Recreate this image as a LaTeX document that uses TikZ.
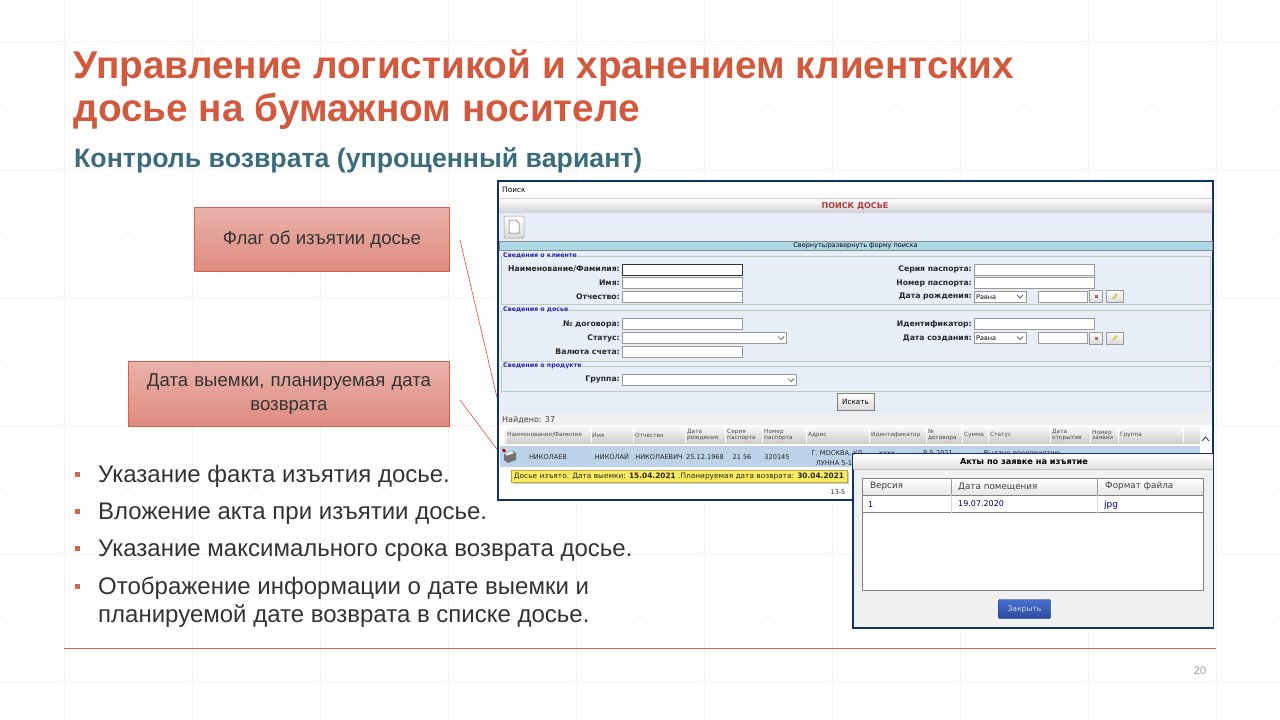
\documentclass[tikz,border=0pt]{standalone}
\usepackage{fontspec}
\setmainfont{Liberation Sans}
\newfontfamily\webfont{DejaVu Sans}
\usepackage{xcolor}
\definecolor{TitleRed}{HTML}{D15A3E}
\definecolor{SubTeal}{HTML}{3B6C7C}
\definecolor{BoxLine}{HTML}{D8614A}
\definecolor{BoxTop}{HTML}{E9B2AB}
\definecolor{BoxBottom}{HTML}{DF8B7E}
\definecolor{BodyGrey}{HTML}{333333}
\definecolor{GridGrey}{HTML}{F3F3F3}
\definecolor{DiagGrey}{HTML}{F5F5F5}
\definecolor{FrameNavy}{HTML}{14306B}
\definecolor{FormBlue}{HTML}{E8EEF8}
\definecolor{BarBlue}{HTML}{ADD8E6}
\definecolor{SetGreen}{HTML}{B9CDB9}
\definecolor{RowBlue}{HTML}{BDD3EA}
\definecolor{TipYellow}{HTML}{FFEB5F}
\definecolor{TitleBrick}{HTML}{B23A3A}
\definecolor{LegendBlue}{HTML}{2222A8}
\definecolor{CloseTop}{HTML}{4A6FD0}
\definecolor{CloseBottom}{HTML}{2A4A9E}
\usetikzlibrary{positioning}
\newcommand{\fs}[1]{\fontsize{#1}{#1}\selectfont}
\tikzset{
    slidetext/.style={inner sep=0pt, anchor=base west, text=BodyGrey, font=\fs{24}},
    callout/.style={draw=BoxLine, line width=0.8pt, top color=BoxTop, bottom color=BoxBottom, text=BodyGrey, font=\fs{18.6}, align=center, inner sep=0pt},
    leader/.style={draw=BoxLine, line width=0.7pt},
    bullet/.style={fill=BoxLine, minimum size=5pt, inner sep=0pt},
    formlabel/.style={inner sep=0pt, anchor=east, text=black!85, font=\webfont\bfseries\fs{7.7}},
    legendtext/.style={inner sep=0pt, anchor=west, text=LegendBlue, font=\webfont\bfseries\fs{6.3}},
    headtext/.style={inner sep=0pt, anchor=west, align=left, text=black!70, font=\webfont\fs{5.8}},
    celltext/.style={inner sep=0pt, anchor=base, text=black!85, font=\webfont\fs{6.6}},
    popuptext/.style={inner sep=0pt, anchor=west, text=black!75, font=\webfont\fs{8.8}},
    field/.style={draw=black!40, fill=white, line width=0.6pt},
    fieldset/.style={draw=SetGreen, line width=0.7pt},
    tinybtn/.style={draw=black!40, top color=white, bottom color=black!15, line width=0.5pt}
}
\begin{document}
\begin{tikzpicture}[x=1pt, y=-1pt]
    \useasboundingbox (0,0) rectangle (1280,720);
    % Draw the faint background tiles
    \foreach \x in {-64,64,...,1344}{
        \foreach \y in {41,169,...,681}{
            \draw[DiagGrey, line width=0.6pt] (\x,\y) -- ++(128,128);
            \draw[DiagGrey, line width=0.6pt] (\x,\y) -- ++(128,-128);
        }
        \draw[GridGrey, line width=0.8pt] (\x,0) -- (\x,720);
    }
    \foreach \y in {41,169,...,681}{
        \draw[GridGrey, line width=0.8pt] (0,\y) -- (1280,\y);
    }

    % Title and subtitle
    \node[inner sep=0pt, anchor=base west, text=TitleRed, font=\bfseries\fs{38.7}] (title1) at (73.5,78) {Управление логистикой и хранением клиентских};
    \node[inner sep=0pt, anchor=base west, text=TitleRed, font=\bfseries\fs{38.7}] (title2) at (73.5,121) {досье на бумажном носителе};
    \node[inner sep=0pt, anchor=base west, text=SubTeal, font=\bfseries\fs{26.7}] (subtitle) at (74,167) {Контроль возврата (упрощенный вариант)};

    % Callouts with their free leader ends
    \node[callout, minimum width=255.5pt, minimum height=64pt] (flag) at (322,239.5) {Флаг об изъятии досье};
    \node[callout, minimum width=321.5pt, minimum height=65pt, text width=300pt] (dates) at (289,394) {Дата выемки, планируемая дата\\[4.5pt]возврата};
    \coordinate (flagend) at (499,406);
    \coordinate (datesend) at (505,460);
    \coordinate (flagstart) at (460,240);
    \coordinate (datesstart) at (460,400);
    \draw[leader] (flagstart) -- (flagend);
    \draw[leader] (datesstart) -- (datesend);

    % Bullets
    \foreach \y/\t[count=\c] in {482/Указание факта изъятия досье., 519/Вложение акта при изъятии досье., 556/Указание максимального срока возврата досье., 594/Отображение информации о дате выемки и, 622/планируемой дате возврата в списке досье.}{
        \node[slidetext] (item\c) at (98,\y) {\t};
    }
    \foreach \y[count=\c] in {474,511,548,586}{
        \node[bullet] (mark\c) at (77.5,\y) {};
    }

    % Footer
    \coordinate (rulea) at (64,648.5);
    \coordinate (ruleb) at (1216,648.5);
    \draw[draw=BoxLine, line width=0.8pt] (rulea) -- (ruleb);
    \node[inner sep=0pt, text=black!40, font=\fs{11}] (pagenum) at (1200,671) {20};

    % Draw the search window
    \draw[FrameNavy, fill=white, line width=1.4pt] (498,181) rectangle (1213,500);
    \fill[top color=white, bottom color=black!18] (499,198) rectangle (1212,213);
    \draw[black!20, line width=0.5pt] (499,198) -- (1212,198);
    \fill[FormBlue] (499,213) rectangle (1212,412.5);
    \fill[black!6] (499,413) rectangle (1212,425);
    \node[inner sep=0pt, anchor=west, font=\webfont\fs{7.4}] (crumb) at (502,190) {Поиск};
    \node[inner sep=0pt, text=TitleBrick, font=\webfont\bfseries\fs{8}] (formtitle) at (855,206) {ПОИСК ДОСЬЕ};

    % Draw the new-file button
    \draw[tinybtn, rounded corners=1pt] (504,216) rectangle (524,238);
    \draw[black!60, fill=white, line width=0.5pt] (509,220) -- (516,220) -- (519,223) -- (519,233) -- (509,233) -- cycle;

    % Draw the collapse bar
    \draw[black!45, fill=BarBlue, line width=0.5pt] (499,241.5) rectangle (1212,250);
    \node[inner sep=0pt, font=\webfont\fs{6.5}] (collapse) at (855.5,246) {Свернуть/развернуть форму поиска};

    % Draw the fieldsets
    \foreach \top/\bot/\t[count=\c] in {256/304/Сведения о клиенте, 310/361/Сведения о досье, 366/391/Сведения о продукте}{
        \draw[fieldset] (501,\top) rectangle (1210,\bot);
        \node[legendtext, fill=FormBlue] (legend\c) at (503,\top) {\t};
    }

    % Draw the left column of fields
    \draw[black!80, fill=white, line width=0.8pt] (622.5,264) rectangle (742,275);
    \foreach \y/\w/\t[count=\c] in {269.5/742/{Наименование/Фамилия:}, 283/742/Имя:, 296.5/742/Отчество:, 324/742/№ договора:, 338/786/Статус:, 352/742/Валюта счета:, 380/796/Группа:}{
        \ifnum\c>1
            \draw[field] (622.5,\y-5.5) rectangle (\w,\y+5.5);
        \fi
        \node[formlabel] (llabel\c) at (620,\y) {\t};
    }
    \foreach \x/\y in {781/338, 791/380}{
        \draw[black!70, line width=0.7pt] (\x-3,\y-1.5) -- (\x,\y+1.5) -- (\x+3,\y-1.5);
    }

    % Draw the right column of fields
    \foreach \y/\t[count=\c] in {269.5/Серия паспорта:, 283/Номер паспорта:, 324/Идентификатор:}{
        \draw[field] (974,\y-5.5) rectangle (1094,\y+5.5);
        \node[formlabel] (rlabel\c) at (972,\y) {\t};
    }
    \foreach \y/\t[count=\c] in {296.5/Дата рождения:, 338/Дата создания:}{
        \draw[field] (974,\y-5.5) rectangle (1026,\y+5.5);
        \draw[black!70, line width=0.7pt] (1017,\y-1.5) -- (1020,\y+1.5) -- (1023,\y-1.5);
        \node[formlabel] (dlabel\c) at (972,\y) {\t};
        \node[inner sep=0pt, anchor=west, font=\webfont\fs{6.5}] (dequal\c) at (976,\y+0.5) {Равна};
        \draw[field] (1038,\y-5.5) rectangle (1087,\y+5.5);
        \draw[tinybtn] (1089.5,\y-6) rectangle (1102,\y+6);
        \fill[red!45!black!60] (1094.5,\y-1.5) rectangle (1097.5,\y+1.5);
        \draw[tinybtn] (1106,\y-6) rectangle (1123,\y+6);
        \fill[yellow!70!black!70] (1112,\y+2) -- (1116,\y-3) -- (1118,\y-2) -- (1114,\y+3) -- cycle;
    }

    % Draw the search button and result count
    \node[draw=black!50, top color=white, bottom color=black!15, minimum width=37pt, minimum height=17pt, inner sep=0pt, font=\webfont\fs{7.2}] (search) at (855.5,401.5) {Искать};
    \node[inner sep=0pt, anchor=west, text=black!75, font=\webfont\fs{8}] (found) at (502,420) {Найдено: 37};

    % Draw the results header
    \fill[top color=white, bottom color=black!20] (505,425) rectangle (1200,443);
    \foreach \x in {507,592,634,686,726,763,807,870,927,963,989,1051,1091,1119,1184}{
        \draw[white, line width=0.6pt] (\x-0.5,425) -- (\x-0.5,443);
    }
    \foreach \x/\t[count=\c] in {507/{Наименование/Фамилия}, 592/Имя, 635/Отчество, 687/{Дата\\рождения}, 727/{Серия\\паспорта}, 764/{Номер\\паспорта}, 808/Адрес, 871/Идентификатор, 928/{№\\договора}, 964/Сумма, 990/Статус, 1052/{Дата\\открытия}, 1092/{Номер\\заявки}, 1120/Группа}{
        \node[headtext] (head\c) at (\x,435) {\t};
    }
    \draw[black!70, line width=1pt] (1202,441) -- (1205.5,437) -- (1209,441);

    % Draw the selected row
    \fill[RowBlue] (500,446) rectangle (1200,467);
    \foreach \x/\t[count=\c] in {548/НИКОЛАЕВ, 612/НИКОЛАЙ, 659/НИКОЛАЕВИЧ, 705/25.12.1968, 742/21 56, 777/320145}{
        \node[celltext] (cell\c) at (\x,459) {\t};
    }
    \node[celltext] (address1) at (837,455) {Г. МОСКВА, УЛ};
    \node[celltext] (address2) at (834,465) {ЛУННА 5-1};
    \node[celltext] (hidden1) at (887,455.5) {хххх};
    \node[celltext] (hidden2) at (938,455.5) {Р-5-2021};
    \node[celltext] (hidden3) at (1022,455.5) {Выдано предприятию};

    % Draw the row icon
    \fill[black!55] (504,454) -- (513,451) -- (516,453) -- (516,460) -- (508,463) -- (504,460) -- cycle;
    \fill[white] (505,454) -- (512,451.5) -- (514,453) -- (507,455.5) -- cycle;
    \fill[red!80!black] (502,449) -- (505,449) -- (506,452) -- (503,452) -- cycle;

    % Draw the tooltip
    \fill[black!18] (512.5,472) rectangle (849,484);
    \draw[yellow!65!black, fill=TipYellow, line width=0.6pt] (511,470) rectangle (847,482);
    \node[inner sep=0pt, font=\webfont\fs{7.4}, text=black!85] (tooltip) at (679,476.5) {Досье изъято. Дата выемки: \textbf{15.04.2021} .Планируемая дата возврата: \textbf{30.04.2021}};
    \node[celltext, font=\webfont\fs{6.4}] (pager) at (838,494.5) {13-5};

    % Draw the acts popup
    \draw[FrameNavy, fill=black!6, line width=1.4pt] (853,454) rectangle (1213.5,628);
    \fill[top color=white, bottom color=black!12] (853.7,454.7) rectangle (1212.8,469);
    \draw[black!25, line width=0.5pt] (853.7,469) -- (1212.8,469);
    \node[inner sep=0pt, font=\webfont\bfseries\fs{8.2}] (popuptitle) at (1024,462) {Акты по заявке на изъятие};
    \fill[white] (862.5,478) rectangle (1203.5,590);
    \fill[top color=white, bottom color=black!10] (862.5,478) rectangle (1203.5,495);
    \draw[black!50, line width=0.8pt] (862.5,478) rectangle (1203.5,590);
    \draw[black!50, line width=0.8pt] (862.5,495) -- (1203.5,495);
    \draw[black!50, line width=0.8pt] (862.5,512.5) -- (1203.5,512.5);
    \foreach \x in {951.5,1097.5}{
        \draw[black!40, line width=0.6pt] (\x,478) -- (\x,495);
        \draw[black!15, line width=0.6pt] (\x,495) -- (\x,512.5);
    }
    \foreach \x/\t[count=\c] in {870/Версия, 958/Дата помещения, 1105/Формат файла}{
        \node[popuptext] (acthead\c) at (\x,486.5) {\t};
    }
    \node[popuptext, text=blue!40!black, font=\webfont\fs{8}] (actver) at (868,504.5) {1};
    \node[popuptext, text=blue!40!black, font=\webfont\fs{8}] (actdate) at (958,503.5) {19.07.2020};
    \node[popuptext, text=blue!60!black, font=\webfont\fs{9}] (actfile) at (1104,505) {jpg};
    \node[draw=FrameNavy, top color=CloseTop, bottom color=CloseBottom, rounded corners=1pt, minimum width=52pt, minimum height=19pt, inner sep=0pt, text=white!85!black, font=\webfont\fs{7.6}] (closebtn) at (1024.5,609) {Закрыть};
\end{tikzpicture}
\end{document}
